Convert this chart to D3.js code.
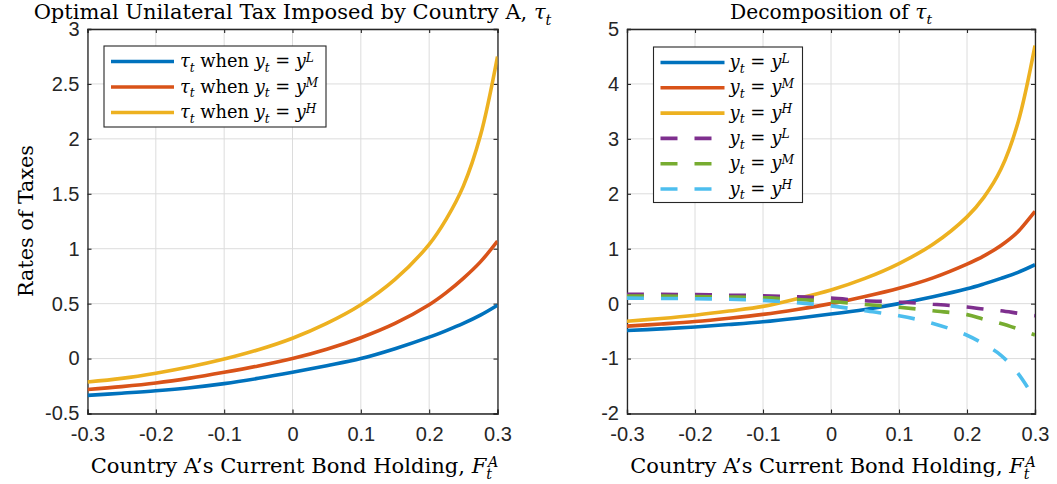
<!DOCTYPE html>
<html><head><meta charset="utf-8">
<script src="https://cdn.jsdelivr.net/npm/d3@7"></script>
<style>
body{margin:0;background:#fff}
svg{display:block}
text{white-space:pre}
</style></head><body>
<svg id="fig" width="1057" height="484"></svg>
<script>
// Country A's current bond holding (x-axis grid of the solution)
const bondHolding = [-0.3,-0.25,-0.2,-0.15,-0.1,-0.05,0,0.05,0.1,0.15,0.2,0.225,0.25,0.275,0.3];

// Optimal unilateral tax for each income state
const taxLow  = [-0.335,-0.315,-0.293,-0.265,-0.228,-0.18,-0.125,-0.065,0.0,0.09,0.195,0.255,0.32,0.395,0.485];
const taxMid  = [-0.282,-0.255,-0.222,-0.178,-0.125,-0.067,0.0,0.085,0.19,0.32,0.49,0.6,0.73,0.88,1.07];
const taxHigh = [-0.213,-0.18,-0.133,-0.075,-0.005,0.08,0.185,0.32,0.49,0.72,1.04,1.27,1.57,2.03,2.75];

// Decomposition: first component (solid)
const compALow  = [-0.49,-0.46,-0.425,-0.38,-0.33,-0.265,-0.19,-0.105,0.0,0.125,0.27,0.36,0.46,0.57,0.71];
const compAMid  = [-0.41,-0.37,-0.325,-0.265,-0.195,-0.105,0.0,0.13,0.28,0.47,0.72,0.87,1.06,1.31,1.68];
const compAHigh = [-0.32,-0.27,-0.21,-0.135,-0.05,0.09,0.25,0.46,0.73,1.08,1.58,1.94,2.45,3.3,4.7];
// Decomposition: second component (dashed)
const compBLow  = [0.17,0.168,0.165,0.157,0.145,0.125,0.1,0.053,0.03,-0.01,-0.06,-0.1,-0.13,-0.175,-0.22];
const compBMid  = [0.14,0.137,0.13,0.122,0.11,0.075,0.04,-0.015,-0.065,-0.13,-0.2,-0.285,-0.36,-0.46,-0.57];
const compBHigh = [0.1,0.095,0.09,0.08,0.06,0.015,-0.04,-0.13,-0.22,-0.36,-0.575,-0.74,-0.94,-1.27,-1.74];

const xTicks = [-0.3,-0.2,-0.1,0,0.1,0.2,0.3];
const leftYTicks = [-0.5,0,0.5,1,1.5,2,2.5,3];
const rightYTicks = [-2,-1,0,1,2,3,4,5];
const stateLabels = ["L","M","H"];

const C = {blue:"#0072BD", orange:"#D95319", yellow:"#EDB120",
           purple:"#7E2F8E", green:"#77AC30", cyan:"#4DBEEE"};
const AX = "#262626";
const SERIF = "'DejaVu Serif','Liberation Serif',serif";
const SANS = "'Liberation Sans',Arial,Helvetica,sans-serif";

const svg = d3.select("#fig");

// Writes text made of plain, italic, sub- and superscript pieces
function mathText(sel, parts, size) {
  sel.selectAll("tspan").remove();
  sel.attr("font-size", size);
  let shift = 0;
  parts.forEach(p => {
    const ts = sel.append("tspan").text(p.t);
    const target = p.sub ? size*0.27 : p.sup ? -size*0.3 : 0;
    if (target - shift !== 0) ts.attr("dy", target - shift);
    shift = target;
    if (p.sub || p.sup) ts.attr("font-size", size*0.68);
    if (p.it) ts.attr("font-style", "italic");
    if (p.dx) ts.attr("dx", p.dx * size);
  });
}

// Picks the font size at which a piece of text spans the given width
function fitSize(parts, width, base) {
  const tmp = svg.append("text").attr("font-family", SERIF);
  mathText(tmp, parts, base);
  const w = tmp.node().getComputedTextLength();
  tmp.remove();
  return base * width / w;
}

function panel(cfg) {
  const g = svg.append("g");
  const x = d3.scaleLinear().domain([-0.3, 0.3]).range([cfg.x0, cfg.x1]);
  const y = d3.scaleLinear().domain(cfg.yDomain).range([cfg.y1, cfg.y0]);
  const tl = 4;

  // grid
  g.append("g").attr("stroke", "#dcdcdc").attr("stroke-width", 1)
    .selectAll("line").data(xTicks).join("line")
    .attr("x1", d => x(d)).attr("x2", d => x(d)).attr("y1", cfg.y0).attr("y2", cfg.y1);
  g.append("g").attr("stroke", "#dcdcdc").attr("stroke-width", 1)
    .selectAll("line").data(cfg.yTicks).join("line")
    .attr("y1", d => y(d)).attr("y2", d => y(d)).attr("x1", cfg.x0).attr("x2", cfg.x1);

  // axes with inward ticks on all four sides
  const fmt = d => d3.format("")(d).replace("−", "-");
  const bottom = g.append("g").attr("transform", `translate(0,${cfg.y1})`)
    .call(d3.axisBottom(x).tickValues(xTicks).tickSize(-tl).tickPadding(13).tickFormat(fmt));
  const top = g.append("g").attr("transform", `translate(0,${cfg.y0})`)
    .call(d3.axisTop(x).tickValues(xTicks).tickSize(-tl).tickFormat(""));
  const left = g.append("g").attr("transform", `translate(${cfg.x0},0)`)
    .call(d3.axisLeft(y).tickValues(cfg.yTicks).tickSize(-tl).tickPadding(cfg.yPad).tickFormat(fmt));
  const right = g.append("g").attr("transform", `translate(${cfg.x1},0)`)
    .call(d3.axisRight(y).tickValues(cfg.yTicks).tickSize(-tl).tickFormat(""));
  [bottom, top, left, right].forEach(a => {
    a.select(".domain").attr("stroke", AX).attr("stroke-width", 1.3);
    a.selectAll(".tick line").attr("stroke", AX).attr("stroke-width", 1.1);
    a.selectAll(".tick text").attr("fill", AX).attr("font-family", SANS).attr("font-size", 20);
  });

  // clip
  const clipId = "clip" + cfg.id;
  svg.append("clipPath").attr("id", clipId).append("rect")
    .attr("x", cfg.x0).attr("y", cfg.y0).attr("width", cfg.x1 - cfg.x0).attr("height", cfg.y1 - cfg.y0);

  const line = d3.line().x((d, i) => x(bondHolding[i])).y(d => y(d)).curve(d3.curveCatmullRom.alpha(0.5));
  const lines = g.append("g").attr("clip-path", `url(#${clipId})`);
  cfg.series.forEach(s => {
    lines.append("path").attr("d", line(s.values)).attr("fill", "none")
      .attr("stroke", s.color).attr("stroke-width", 3.6)
      .attr("stroke-dasharray", s.dashed ? "17,17" : null);
  });

  // title
  const t = g.append("text").attr("x", (cfg.x0 + cfg.x1) / 2).attr("y", 19)
    .attr("text-anchor", "middle").attr("font-family", SERIF).attr("fill", "#000");
  mathText(t, cfg.title, fitSize(cfg.title, cfg.titleWidth, 20));

  // x label
  const xParts = [{t:"Country A’s Current Bond Holding, "},{t:"F",it:true},{t:"t",it:true,sub:true},
                  {t:"A",it:true,sup:true,dx:-0.2}];
  const xl = g.append("text").attr("x", (cfg.x0 + cfg.x1) / 2 + 2).attr("y", 473)
    .attr("text-anchor", "middle").attr("font-family", SERIF).attr("fill", "#000");
  mathText(xl, xParts, fitSize(xParts, cfg.xLabelWidth, 20));

  // legend
  const lg = g.append("g");
  lg.append("rect").attr("x", cfg.leg.x).attr("y", cfg.leg.y).attr("width", cfg.leg.w).attr("height", cfg.leg.h)
    .attr("fill", "#fff").attr("stroke", AX).attr("stroke-width", 1.1);
  const legSize = fitSize(cfg.series[0].label, cfg.leg.textWidth, 18);
  cfg.series.forEach((s, i) => {
    const yy = cfg.leg.y + cfg.leg.first + i * cfg.leg.step;
    lg.append("line").attr("x1", cfg.leg.x + 7).attr("x2", cfg.leg.x + 7 + cfg.leg.sample)
      .attr("y1", yy).attr("y2", yy).attr("stroke", s.color).attr("stroke-width", 3.6)
      .attr("stroke-dasharray", s.dashed ? "17,17" : null);
    const tx = lg.append("text").attr("x", cfg.leg.x + cfg.leg.textX).attr("y", yy + 5.5)
      .attr("font-family", SERIF).attr("fill", "#000");
    mathText(tx, s.label, legSize);
  });
  return g;
}

const tauParts = [{t:"τ",it:true},{t:"t",it:true,sub:true}];
const stateEq = k => [{t:"y",it:true},{t:"t",it:true,sub:true},{t:" = "},{t:"y",it:true},{t:k,it:true,sup:true}];

panel({
  id: "L", x0: 87.5, x1: 497.5, y0: 29, y1: 413.5,
  yDomain: [-0.5, 3], yTicks: leftYTicks, yPad: 8,
  title: [{t:"Optimal Unilateral Tax Imposed by Country A, "}].concat(tauParts), titleWidth: 518,
  xLabelWidth: 412,
  leg: {x: 104, y: 46, w: 222, h: 81, first: 15.5, step: 25.5, sample: 63, textX: 76, textWidth: 134},
  series: [
    {values: taxLow,  color: C.blue,   label: tauParts.concat([{t:" when "}], stateEq(stateLabels[0]))},
    {values: taxMid,  color: C.orange, label: tauParts.concat([{t:" when "}], stateEq(stateLabels[1]))},
    {values: taxHigh, color: C.yellow, label: tauParts.concat([{t:" when "}], stateEq(stateLabels[2]))}
  ]
});

panel({
  id: "R", x0: 627, x1: 1035, y0: 29, y1: 413.5,
  yDomain: [-2, 5], yTicks: rightYTicks, yPad: 8,
  title: [{t:"Decomposition of "}].concat(tauParts), titleWidth: 202,
  xLabelWidth: 410,
  leg: {x: 653.5, y: 47, w: 149, h: 155.5, first: 15.5, step: 25.3, sample: 64, textX: 76, textWidth: 60},
  series: [
    {values: compALow,  color: C.blue,   label: stateEq(stateLabels[0])},
    {values: compAMid,  color: C.orange, label: stateEq(stateLabels[1])},
    {values: compAHigh, color: C.yellow, label: stateEq(stateLabels[2])},
    {values: compBLow,  color: C.purple, dashed: true, label: stateEq(stateLabels[0])},
    {values: compBMid,  color: C.green,  dashed: true, label: stateEq(stateLabels[1])},
    {values: compBHigh, color: C.cyan,   dashed: true, label: stateEq(stateLabels[2])}
  ]
});

// y-axis label of the left panel
const yParts = [{t:"Rates of Taxes"}];
svg.append("text").attr("transform", "translate(33,221) rotate(-90)")
  .attr("text-anchor", "middle").attr("font-family", SERIF).attr("fill", "#000")
  .call(s => mathText(s, yParts, fitSize(yParts, 152, 20)));
</script>
</body></html>
